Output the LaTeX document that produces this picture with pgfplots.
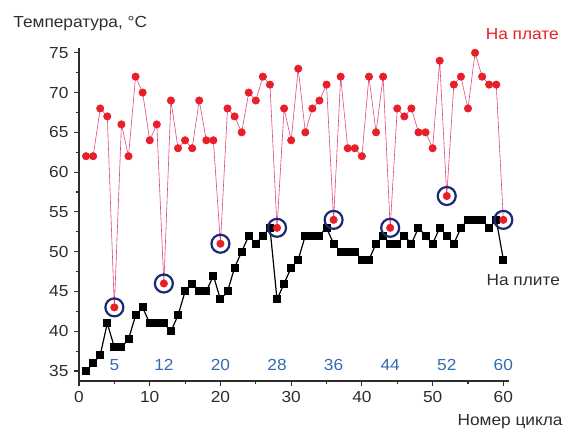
\documentclass[border=0pt]{standalone}
\usepackage{fontspec}
\setmainfont[FakeStretch=1.08]{Liberation Sans}
\usepackage{pgfplots}
\usepackage{pgfplotstable}
\pgfplotsset{compat=1.18}
\definecolor{redpt}{RGB}{232,30,40}
\definecolor{pinkln}{RGB}{222,70,130}
\definecolor{ringblue}{RGB}{28,42,118}
\definecolor{cyclblue}{RGB}{52,106,176}
\definecolor{txtgray}{RGB}{45,45,45}

% cycle, temperature on the board, temperature on the hotplate
\pgfplotstableread{
c plate plite
1 62 35
2 62 36
3 68 37
4 67 41
5 43 38
6 66 38
7 62 39
8 72 42
9 70 43
10 64 41
11 66 41
12 46 41
13 69 40
14 63 42
15 64 45
16 63 46
17 69 45
18 64 45
19 64 47
20 51 44
21 68 45
22 67 48
23 65 50
24 70 52
25 69 51
26 72 52
27 71 53
28 53 44
29 68 46
30 64 48
31 73 49
32 65 52
33 68 52
34 69 52
35 71 53
36 54 51
37 72 50
38 63 50
39 63 50
40 62 49
41 72 49
42 65 51
43 72 52
44 53 51
45 68 51
46 67 52
47 68 51
48 65 53
49 65 52
50 63 51
51 74 53
52 57 52
53 71 51
54 72 53
55 68 54
56 75 54
57 72 54
58 71 53
59 71 54
60 54 49
}\cycles

\begin{document}
\fontsize{16}{19}\selectfont
\begin{tikzpicture}
\begin{axis}[
  scale only axis,
  width=430pt, height=333pt,
  xmin=0, xmax=60.8,
  ymin=33.75, ymax=75.6,
  axis lines=left,
  axis line style={-, line width=1.3pt, txtgray},
  tick align=outside,
  major tick length=5pt, minor tick length=3pt,
  every tick/.style={line width=1.1pt, txtgray},
  xtick={0,10,...,60}, minor xtick={5,15,...,55},
  ytick={35,40,...,75}, minor ytick={37.5,42.5,...,72.5},
  tick label style={font=\fontsize{16}{19}\selectfont, text=txtgray},
  /pgf/number format/assume math mode=true,
  clip=false,
]
\addplot[black, line width=1.2pt, mark=square*, mark size=3.4pt,
  mark options={solid, fill=black}] table[x=c, y=plite] {\cycles};
\addplot[pinkln, line width=0.6pt, mark=*, mark size=3.7pt,
  mark options={draw=redpt, fill=redpt}] table[x=c, y=plate] {\cycles};
\addplot[only marks, mark=o, mark size=9pt, mark options={ringblue, line width=2.2pt}]
  coordinates {(5,43) (12,46) (20,51) (28,53) (36,54) (44,53) (52,57) (60,54)};

\pgfplotsinvokeforeach{5,12,20,28,36,44,52,60}{
  \node[cyclblue] at (axis cs:#1,35.8) {#1};
}
\node[anchor=west, inner sep=0pt, text=txtgray] at (axis cs:-9.3,78.7) {Температура, °C};
\node[anchor=west, inner sep=0pt, text=redpt] at (axis cs:57.5,77.3) {На плате};
\node[anchor=west, inner sep=0pt, text=txtgray] at (axis cs:57.6,46.4) {На плите};
\node[anchor=east, inner sep=0pt, text=txtgray] at (axis cs:68.4,28.6) {Номер цикла};
\end{axis}
\path (-79pt,-49pt) rectangle (486pt,381pt);
\end{tikzpicture}
\end{document}
